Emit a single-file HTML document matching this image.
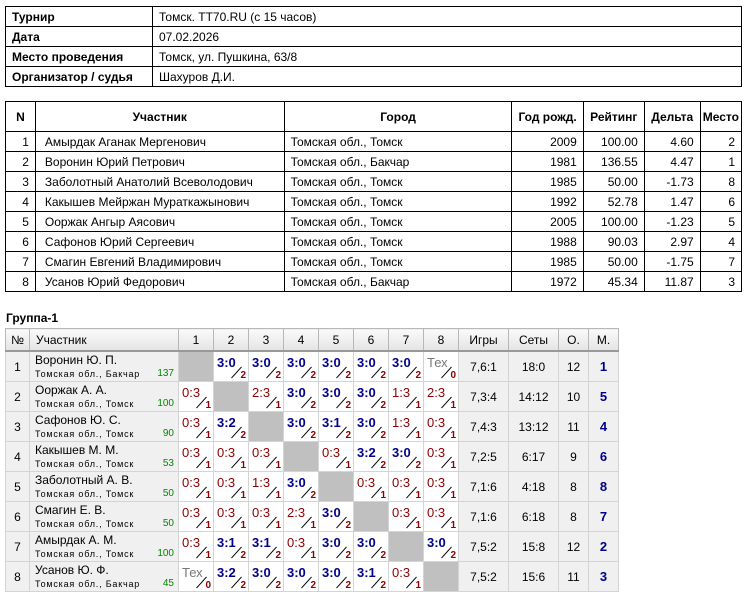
<!DOCTYPE html><html><head><meta charset="utf-8"><style>
body{margin:0;width:750px;height:594px;background:#fff;font-family:"Liberation Sans",sans-serif;font-size:12px;color:#000;position:relative;overflow:hidden}
table.t{position:absolute;border-collapse:collapse;left:5px;width:737px}
table.t td{border:1px solid #000;padding:0 6px;height:19px;white-space:nowrap}
table.t td.L{padding-left:9px}
.b{font-weight:bold}
.r{text-align:right}.c{text-align:center}
#g{position:absolute;left:5px;top:328px;border-collapse:collapse;table-layout:fixed}
#g td{border:1px solid #d4d4d4;padding:0;height:29px;position:relative;white-space:nowrap}
#g tr.h td{height:21px;background:linear-gradient(#fafafa,#e4e4e4);border:1px solid #b8b8b8;border-bottom:2px solid #999;text-align:center;font-size:12px}
#g td.n{background:#f0f0f0;text-align:center}
#g td.p{background:#f0f0f0;padding-left:4px;vertical-align:top}
.nm{position:absolute;left:5px;top:1px;font-size:12px}
.ci{position:absolute;left:5px;top:17px;font-size:9px;letter-spacing:.8px}
.rt{position:absolute;right:4px;top:16px;font-size:10px;color:#080}
#g td.x{background:#c0c0c0}
#g td.s{background:#fff}
.sc{position:absolute;left:3px;top:3px;font-size:13px}
.w .sc{color:#00008b;font-weight:bold}
.l .sc{color:#8b0000}
.tx .sc{color:#777}
.pt{position:absolute;right:2px;bottom:0px;font-size:10px;font-weight:bold;color:#8b0000}
#g td.s:before{content:"";position:absolute;left:15px;top:20px;width:15px;height:1px;background:#000;transform:rotate(-48deg)}
#g td.m{text-align:center;background:#f0f0f0}
#g td.pl{text-align:center;background:#f0f0f0;color:#00008b;font-weight:bold;font-size:13px}
</style></head><body>
<table class="t" style="top:6px">
<tr><td class="b" style="width:134px">Турнир</td><td>Томск. TT70.RU (с 15 часов)</td></tr>
<tr><td class="b">Дата</td><td>07.02.2026</td></tr>
<tr><td class="b">Место проведения</td><td>Томск, ул. Пушкина, 63/8</td></tr>
<tr><td class="b">Организатор / судья</td><td>Шахуров Д.И.</td></tr>
</table>
<table class="t" style="top:101px">
<tr style="height:30px"><td class="b c" style="width:17px;height:28px">N</td><td class="b c" style="width:236px">Участник</td><td class="b c" style="width:216px">Город</td><td class="b c" style="width:54px">Год рожд.</td><td class="b c" style="width:48px">Рейтинг</td><td class="b c" style="width:43px">Дельта</td><td class="b c" style="width:28px;padding:0 2px">Место</td></tr>
<tr><td class="r">1</td><td class="L">Амырдак Аганак Мергенович</td><td>Томская обл., Томск</td><td class="r">2009</td><td class="r">100.00</td><td class="r">4.60</td><td class="r">2</td></tr>
<tr><td class="r">2</td><td class="L">Воронин Юрий Петрович</td><td>Томская обл., Бакчар</td><td class="r">1981</td><td class="r">136.55</td><td class="r">4.47</td><td class="r">1</td></tr>
<tr><td class="r">3</td><td class="L">Заболотный Анатолий Всеволодович</td><td>Томская обл., Томск</td><td class="r">1985</td><td class="r">50.00</td><td class="r">-1.73</td><td class="r">8</td></tr>
<tr><td class="r">4</td><td class="L">Какышев Мейржан Мураткажынович</td><td>Томская обл., Томск</td><td class="r">1992</td><td class="r">52.78</td><td class="r">1.47</td><td class="r">6</td></tr>
<tr><td class="r">5</td><td class="L">Ооржак Ангыр Аясович</td><td>Томская обл., Томск</td><td class="r">2005</td><td class="r">100.00</td><td class="r">-1.23</td><td class="r">5</td></tr>
<tr><td class="r">6</td><td class="L">Сафонов Юрий Сергеевич</td><td>Томская обл., Томск</td><td class="r">1988</td><td class="r">90.03</td><td class="r">2.97</td><td class="r">4</td></tr>
<tr><td class="r">7</td><td class="L">Смагин Евгений Владимирович</td><td>Томская обл., Томск</td><td class="r">1985</td><td class="r">50.00</td><td class="r">-1.75</td><td class="r">7</td></tr>
<tr><td class="r">8</td><td class="L">Усанов Юрий Федорович</td><td>Томская обл., Бакчар</td><td class="r">1972</td><td class="r">45.34</td><td class="r">11.87</td><td class="r">3</td></tr>
</table>
<div class="b" style="position:absolute;left:6px;top:311px">Группа-1</div>
<table id="g">
<colgroup><col style="width:24px"><col style="width:149px"><col style="width:35px"><col style="width:35px"><col style="width:35px"><col style="width:35px"><col style="width:35px"><col style="width:35px"><col style="width:35px"><col style="width:35px"><col style="width:50px"><col style="width:50px"><col style="width:30px"><col style="width:30px"></colgroup>
<tr class="h"><td>№</td><td style="text-align:left;padding-left:6px">Участник</td><td>1</td><td>2</td><td>3</td><td>4</td><td>5</td><td>6</td><td>7</td><td>8</td><td>Игры</td><td>Сеты</td><td>О.</td><td>М.</td></tr>
<tr><td class="n">1</td><td class="p"><span class="nm">Воронин Ю. П.</span><span class="ci">Томская обл., Бакчар</span><span class="rt">137</span></td><td class="x"></td><td class="s w"><span class="sc">3:0</span><span class="pt">2</span></td><td class="s w"><span class="sc">3:0</span><span class="pt">2</span></td><td class="s w"><span class="sc">3:0</span><span class="pt">2</span></td><td class="s w"><span class="sc">3:0</span><span class="pt">2</span></td><td class="s w"><span class="sc">3:0</span><span class="pt">2</span></td><td class="s w"><span class="sc">3:0</span><span class="pt">2</span></td><td class="s tx"><span class="sc">Тех</span><span class="pt">0</span></td><td class="m">7,6:1</td><td class="m">18:0</td><td class="m">12</td><td class="pl">1</td></tr>
<tr><td class="n">2</td><td class="p"><span class="nm">Ооржак А. А.</span><span class="ci">Томская обл., Томск</span><span class="rt">100</span></td><td class="s l"><span class="sc">0:3</span><span class="pt">1</span></td><td class="x"></td><td class="s l"><span class="sc">2:3</span><span class="pt">1</span></td><td class="s w"><span class="sc">3:0</span><span class="pt">2</span></td><td class="s w"><span class="sc">3:0</span><span class="pt">2</span></td><td class="s w"><span class="sc">3:0</span><span class="pt">2</span></td><td class="s l"><span class="sc">1:3</span><span class="pt">1</span></td><td class="s l"><span class="sc">2:3</span><span class="pt">1</span></td><td class="m">7,3:4</td><td class="m">14:12</td><td class="m">10</td><td class="pl">5</td></tr>
<tr><td class="n">3</td><td class="p"><span class="nm">Сафонов Ю. С.</span><span class="ci">Томская обл., Томск</span><span class="rt">90</span></td><td class="s l"><span class="sc">0:3</span><span class="pt">1</span></td><td class="s w"><span class="sc">3:2</span><span class="pt">2</span></td><td class="x"></td><td class="s w"><span class="sc">3:0</span><span class="pt">2</span></td><td class="s w"><span class="sc">3:1</span><span class="pt">2</span></td><td class="s w"><span class="sc">3:0</span><span class="pt">2</span></td><td class="s l"><span class="sc">1:3</span><span class="pt">1</span></td><td class="s l"><span class="sc">0:3</span><span class="pt">1</span></td><td class="m">7,4:3</td><td class="m">13:12</td><td class="m">11</td><td class="pl">4</td></tr>
<tr><td class="n">4</td><td class="p"><span class="nm">Какышев М. М.</span><span class="ci">Томская обл., Томск</span><span class="rt">53</span></td><td class="s l"><span class="sc">0:3</span><span class="pt">1</span></td><td class="s l"><span class="sc">0:3</span><span class="pt">1</span></td><td class="s l"><span class="sc">0:3</span><span class="pt">1</span></td><td class="x"></td><td class="s l"><span class="sc">0:3</span><span class="pt">1</span></td><td class="s w"><span class="sc">3:2</span><span class="pt">2</span></td><td class="s w"><span class="sc">3:0</span><span class="pt">2</span></td><td class="s l"><span class="sc">0:3</span><span class="pt">1</span></td><td class="m">7,2:5</td><td class="m">6:17</td><td class="m">9</td><td class="pl">6</td></tr>
<tr><td class="n">5</td><td class="p"><span class="nm">Заболотный А. В.</span><span class="ci">Томская обл., Томск</span><span class="rt">50</span></td><td class="s l"><span class="sc">0:3</span><span class="pt">1</span></td><td class="s l"><span class="sc">0:3</span><span class="pt">1</span></td><td class="s l"><span class="sc">1:3</span><span class="pt">1</span></td><td class="s w"><span class="sc">3:0</span><span class="pt">2</span></td><td class="x"></td><td class="s l"><span class="sc">0:3</span><span class="pt">1</span></td><td class="s l"><span class="sc">0:3</span><span class="pt">1</span></td><td class="s l"><span class="sc">0:3</span><span class="pt">1</span></td><td class="m">7,1:6</td><td class="m">4:18</td><td class="m">8</td><td class="pl">8</td></tr>
<tr><td class="n">6</td><td class="p"><span class="nm">Смагин Е. В.</span><span class="ci">Томская обл., Томск</span><span class="rt">50</span></td><td class="s l"><span class="sc">0:3</span><span class="pt">1</span></td><td class="s l"><span class="sc">0:3</span><span class="pt">1</span></td><td class="s l"><span class="sc">0:3</span><span class="pt">1</span></td><td class="s l"><span class="sc">2:3</span><span class="pt">1</span></td><td class="s w"><span class="sc">3:0</span><span class="pt">2</span></td><td class="x"></td><td class="s l"><span class="sc">0:3</span><span class="pt">1</span></td><td class="s l"><span class="sc">0:3</span><span class="pt">1</span></td><td class="m">7,1:6</td><td class="m">6:18</td><td class="m">8</td><td class="pl">7</td></tr>
<tr><td class="n">7</td><td class="p"><span class="nm">Амырдак А. М.</span><span class="ci">Томская обл., Томск</span><span class="rt">100</span></td><td class="s l"><span class="sc">0:3</span><span class="pt">1</span></td><td class="s w"><span class="sc">3:1</span><span class="pt">2</span></td><td class="s w"><span class="sc">3:1</span><span class="pt">2</span></td><td class="s l"><span class="sc">0:3</span><span class="pt">1</span></td><td class="s w"><span class="sc">3:0</span><span class="pt">2</span></td><td class="s w"><span class="sc">3:0</span><span class="pt">2</span></td><td class="x"></td><td class="s w"><span class="sc">3:0</span><span class="pt">2</span></td><td class="m">7,5:2</td><td class="m">15:8</td><td class="m">12</td><td class="pl">2</td></tr>
<tr><td class="n">8</td><td class="p"><span class="nm">Усанов Ю. Ф.</span><span class="ci">Томская обл., Бакчар</span><span class="rt">45</span></td><td class="s tx"><span class="sc">Тех</span><span class="pt">0</span></td><td class="s w"><span class="sc">3:2</span><span class="pt">2</span></td><td class="s w"><span class="sc">3:0</span><span class="pt">2</span></td><td class="s w"><span class="sc">3:0</span><span class="pt">2</span></td><td class="s w"><span class="sc">3:0</span><span class="pt">2</span></td><td class="s w"><span class="sc">3:1</span><span class="pt">2</span></td><td class="s l"><span class="sc">0:3</span><span class="pt">1</span></td><td class="x"></td><td class="m">7,5:2</td><td class="m">15:6</td><td class="m">11</td><td class="pl">3</td></tr>
</table>
</body></html>
